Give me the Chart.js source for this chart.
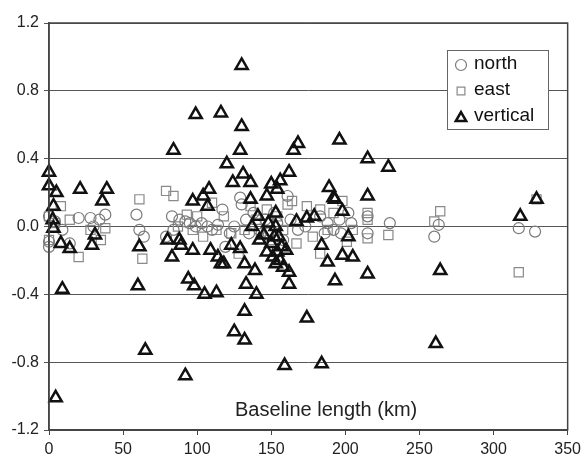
<!DOCTYPE html>
<html>
<head>
<meta charset="utf-8">
<script src="https://cdn.jsdelivr.net/npm/chart.js@4.4.1/dist/chart.umd.min.js"></script>
<style>
  html, body { margin: 0; padding: 0; background: #fff; }
  #wrap { width: 586px; height: 465px; }
</style>
</head>
<body>
<div id="wrap"><canvas id="scatterChart" width="586" height="465"></canvas></div>
<script>
// Data (baseline length km, residual)
const northX = [0, 0, 0, 4, 9, 14, 20, 28, 30, 34, 38, 59, 61, 64, 79, 83, 84, 88, 92, 95, 99, 103, 107, 110, 114, 117, 119, 122, 125, 129, 130, 133, 135, 138, 142, 146, 148, 152, 154, 158, 161, 163, 168, 173, 183, 186, 188, 192, 196, 197, 202, 204, 215, 215, 230, 260, 263, 317, 328];
const northY = [-0.12, -0.09, 0.06, 0.03, -0.02, -0.10, 0.05, 0.05, 0.0, 0.04, 0.07, 0.07, -0.02, -0.06, -0.06, 0.06, -0.02, 0.04, 0.03, 0.02, 0.0, 0.02, 0.0, -0.02, 0.01, 0.10, -0.12, -0.04, 0.0, 0.17, 0.13, 0.04, -0.04, 0.08, -0.02, 0.04, -0.04, 0.08, 0.02, -0.08, 0.18, 0.04, -0.02, 0.0, 0.06, -0.04, 0.02, -0.02, 0.04, -0.04, 0.08, 0.02, 0.06, -0.04, 0.02, -0.06, 0.01, -0.01, -0.03];

const eastX = [0, 0, 4, 8, 14, 20, 28, 35, 38, 61, 63, 79, 84, 87, 93, 97, 100, 104, 110, 113, 118, 123, 128, 132, 136, 140, 143, 147, 149, 154, 158, 161, 164, 167, 174, 178, 183, 183, 188, 192, 198, 201, 205, 215, 215, 215, 229, 260, 264, 317, 329];
const eastY = [-0.08, 0.06, 0.02, 0.12, 0.04, -0.18, -0.02, -0.08, -0.01, 0.16, -0.19, 0.21, 0.18, 0.0, 0.07, -0.02, 0.06, -0.06, 0.14, -0.02, 0.06, -0.04, -0.16, -0.02, 0.12, 0.04, -0.04, 0.10, -0.08, 0.06, -0.02, 0.13, 0.15, -0.10, 0.12, -0.06, 0.10, -0.16, -0.02, 0.08, 0.15, -0.09, -0.02, 0.08, 0.04, -0.07, -0.05, 0.03, 0.09, -0.27, 0.16];

const verticalX = [0, 0, 5, 3, 2.5, 3, 8, 14, 9, 4.5, 21, 29, 31, 36, 39, 60, 61, 65, 84, 80, 83, 88, 89, 92, 94, 97, 97, 98, 99, 105, 108, 107, 104, 109, 113, 116, 114, 116, 118, 120, 123, 124, 125, 130, 129, 130, 131, 129, 132, 132, 132, 133, 136, 136, 139, 140, 141, 142, 147, 147, 150, 153, 153, 152, 154, 153, 156, 154, 158, 160, 159, 162, 162, 162, 165, 168, 167, 174, 174, 179, 184, 184, 188, 189, 192, 193, 193, 196, 198, 198, 202, 205, 215, 215, 215, 229, 261, 264, 318, 329, 145, 150, 155, 148, 157, 151, 156, 137];
const verticalY = [0.32, 0.24, 0.20, 0.12, 0.04, -0.01, -0.10, -0.13, -0.37, -1.01, 0.22, -0.11, -0.05, 0.15, 0.22, -0.35, -0.12, -0.73, 0.45, -0.08, -0.18, -0.08, -0.11, -0.88, -0.31, -0.14, 0.15, -0.35, 0.66, -0.40, 0.22, 0.12, 0.18, -0.14, -0.39, 0.67, -0.18, -0.22, -0.22, 0.37, -0.11, 0.26, -0.62, 0.59, 0.45, 0.95, 0.31, -0.13, -0.22, -0.50, -0.67, -0.34, 0.26, 0.16, -0.26, -0.40, 0.06, -0.08, 0.18, -0.15, 0.25, 0.08, 0.00, -0.06, -0.15, -0.22, 0.27, 0.22, -0.24, -0.14, -0.82, -0.27, -0.34, 0.32, 0.45, 0.49, 0.03, -0.54, 0.05, 0.06, -0.81, -0.11, -0.21, 0.23, 0.17, 0.16, -0.32, 0.51, 0.09, -0.17, -0.06, -0.18, 0.40, 0.18, -0.28, 0.35, -0.69, -0.26, 0.06, 0.16, -0.05, -0.10, -0.06, 0.02, -0.12, -0.18, -0.20, 0.00];

const xTicks = [0, 50, 100, 150, 200, 250, 300, 350];
const yTicks = [-1.2, -0.8, -0.4, 0.0, 0.4, 0.8, 1.2];
const axisTitle = 'Baseline length (km)';

const FONT = "'Liberation Sans', Arial, sans-serif";

function toPoints(xs, ys) {
    return xs.map((x, i) => ({ x: x, y: ys[i] }));
}

// frame, axis title and boxed legend inside the plot area
const extrasPlugin = {
    id: 'extras',
    afterDatasetsDraw(chart) {
        const ctx = chart.ctx;
        const a = chart.chartArea;
        ctx.save();
        ctx.strokeStyle = '#444';
        ctx.lineWidth = 1.5;
        ctx.strokeRect(a.left, a.top, a.right - a.left, a.bottom - a.top);

        ctx.fillStyle = '#222';
        ctx.font = '20px ' + FONT;
        ctx.textAlign = 'center';
        ctx.textBaseline = 'middle';
        ctx.fillText(axisTitle, chart.scales.x.getPixelForValue(187), 410);

        // legend box
        const bx = 447, by = 50, bw = 101, bh = 79;
        ctx.fillStyle = '#fff';
        ctx.fillRect(bx, by, bw, bh);
        ctx.strokeStyle = '#666';
        ctx.lineWidth = 1;
        ctx.strokeRect(bx + 0.5, by + 0.5, bw, bh);
        ctx.font = '19px ' + FONT;
        ctx.textAlign = 'left';
        chart.data.datasets.forEach((ds, i) => {
            const cy = by + 14 + i * 26;
            const tri = ds.pointStyle === 'triangle';
            ctx.fillStyle = 'rgba(255,255,255,0)';
            ctx.strokeStyle = ds.borderColor;
            ctx.lineWidth = tri ? 2.5 : 1.2;
            Chart.helpers.drawPoint(ctx, {
                pointStyle: ds.pointStyle,
                radius: tri ? 6 : 5.5,
                borderWidth: ctx.lineWidth
            }, bx + 14, cy + (tri ? 2 : 1));
            ctx.fillStyle = '#111';
            ctx.fillText(ds.label, bx + 27, cy);
        });
        ctx.restore();
    }
};

const ctx = document.getElementById('scatterChart').getContext('2d');
const scatterChart = new Chart(ctx, {
    type: 'scatter',
    data: {
        datasets: [{
            label: 'north',
            data: toPoints(northX, northY),
            pointStyle: 'circle',
            pointRadius: 5.5,
            borderColor: '#7a7a7a',
            backgroundColor: 'rgba(255,255,255,0)',
            borderWidth: 1.2,
            clip: false,
            order: 2
        }, {
            label: 'east',
            data: toPoints(eastX, eastY),
            pointStyle: 'rect',
            pointRadius: 6.5,
            borderColor: '#8a8a8a',
            backgroundColor: 'rgba(255,255,255,0)',
            borderWidth: 1.2,
            clip: false,
            order: 3
        }, {
            label: 'vertical',
            data: toPoints(verticalX, verticalY),
            pointStyle: 'triangle',
            pointRadius: 7,
            borderColor: '#111',
            backgroundColor: 'rgba(255,255,255,0)',
            borderWidth: 2.5,
            clip: false,
            order: 1
        }]
    },
    options: {
        responsive: false,
        animation: false,
        layout: { padding: { top: 23, right: 15, left: 0, bottom: 0 } },
        plugins: {
            legend: { display: false },
            tooltip: { enabled: false }
        },
        scales: {
            x: {
                type: 'linear',
                min: 0,
                max: 350,
                afterBuildTicks: s => { s.ticks = xTicks.map(v => ({ value: v })); },
                afterFit: s => { s.height = 35; },
                grid: { drawOnChartArea: false, drawTicks: true, tickLength: 5, color: '#444' },
                border: { color: '#444', width: 1.5 },
                ticks: { color: '#222', padding: 5, font: { family: FONT, size: 16 }, maxRotation: 0 }
            },
            y: {
                min: -1.2,
                max: 1.2,
                afterBuildTicks: s => { s.ticks = yTicks.map(v => ({ value: v })); },
                afterFit: s => { s.width = 49; },
                grid: { color: '#555', lineWidth: 1, tickLength: 5 },
                border: { color: '#444', width: 1.5 },
                ticks: {
                    color: '#222',
                    padding: 5,
                    font: { family: FONT, size: 16 },
                    callback: v => v.toFixed(1)
                }
            }
        }
    },
    plugins: [extrasPlugin]
});
</script>
</body>
</html>
